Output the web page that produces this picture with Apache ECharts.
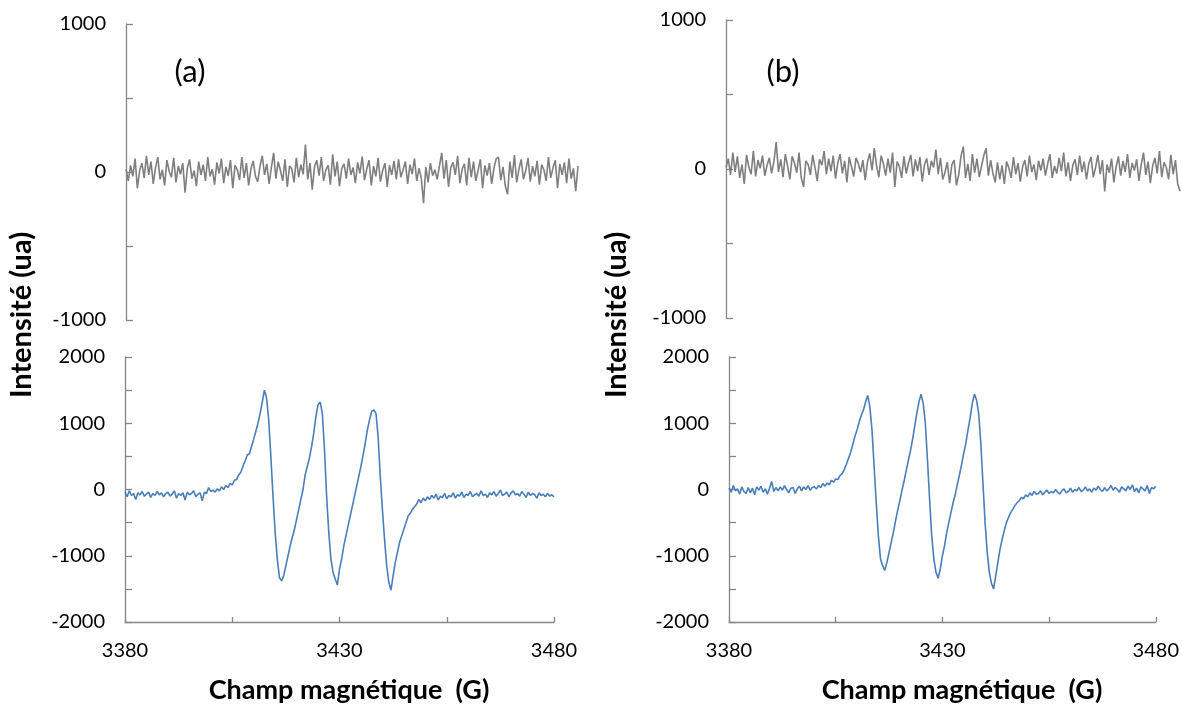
<!DOCTYPE html>
<html><head><meta charset="utf-8">
<script src="https://cdn.jsdelivr.net/npm/echarts@6/dist/echarts.min.js"></script>
<style>html,body{margin:0;padding:0;background:#fff}#c{width:1182px;height:706px}</style>
</head><body><div id="c"></div>
<script>
// ---- data ----
const fieldStart = 3380, fieldStep = 0.5;   // sampling of the spectra (G)
const xTickLabels = [3380, 3430, 3480];
const yTopTickLabels = [-1000, 0, 1000];
const yBottomTickLabels = [-2000, -1000, 0, 1000, 2000];
const panelLabels = ['(a)', '(b)'];
const yTitle = 'Intensité (ua)';
const xTitle = 'Champ magnétique  (G)';

// noise traces (top panels)
const noiseA = [
 20,-60,45,-30,90,-110,10,60,-40,110,-20,70,-80,30,100,-50,15,-90,80,5,
 -35,95,-70,40,-15,60,-140,25,85,-45,10,-95,70,-20,50,-60,100,-30,20,-85,
 65,-10,90,-75,35,-25,80,-110,45,15,-55,100,-40,60,-90,20,75,-30,-65,40,
 110,-20,55,-80,30,130,-45,70,10,-60,85,-100,40,20,-70,95,-35,50,-15,185,
 -50,60,-120,35,80,-25,100,-60,15,45,-85,120,-30,70,-95,25,55,-45,90,-20,
 30,-75,65,-10,105,-55,20,80,-90,40,-30,95,-65,10,60,-100,45,-20,75,-50,
 85,-35,15,70,-80,50,-15,90,-60,25,-40,-210,35,-70,60,-25,15,-50,40,130,
 -45,80,-100,30,65,-20,110,-75,20,55,-90,95,-35,70,-60,10,85,-110,45,-25,
 60,-80,25,90,100,-55,35,-95,-150,70,-40,115,-70,20,85,-50,10,95,-65,40,
 -30,75,-85,50,15,-60,100,-40,30,80,-110,55,-20,65,-75,90,-45,25,-130,40
];
const noiseB = [
 10,70,-40,110,-20,85,-60,30,-100,95,15,-35,120,-50,60,5,90,-45,25,75,
 -30,50,180,-20,65,-55,100,20,-70,85,40,-25,110,-60,-120,55,30,-40,95,10,
 -80,65,25,120,-35,70,-15,90,-65,40,100,-30,55,-90,80,15,-50,75,35,-20,
 60,-75,45,105,-10,140,20,-55,90,35,-45,70,-25,110,-120,50,15,-60,85,-30,
 40,95,-50,65,-15,80,-85,30,70,-40,55,10,130,-35,75,-70,-20,45,-95,30,
 60,-110,-40,85,150,-60,35,-80,100,-25,70,-55,20,90,140,-45,60,-30,-90,45,
 -70,25,-100,50,5,-60,80,-35,40,-85,15,60,-50,90,-20,30,-75,55,-10,70,
 -45,35,100,-60,20,-30,75,-15,110,-50,45,-80,25,65,-40,90,-20,50,-70,35,
 80,-55,10,95,-35,60,-150,30,-25,70,-90,15,85,-45,55,-20,100,-60,40,-10,
 65,-80,30,110,-40,50,-95,20,75,-30,120,-55,45,10,-70,95,-35,60,-100,-150
];

// EPR spectra (bottom panels), one value every 0.5 G from 3380 to 3480 G
const spectrumA = [
 -40,-110,-20,-90,-60,-150,-50,-80,-30,-100,
 -70,-40,-120,-60,-90,-30,-80,-50,-110,-60,
 -40,-100,-70,-20,-130,-60,-90,-50,-160,-40,
 -80,-60,-20,-110,-70,-50,-170,-40,-60,30,
 -30,-10,-40,10,-20,40,0,60,30,90,
 70,140,150,220,260,350,430,520,540,650,
 760,880,1000,1150,1320,1500,1380,1050,500,-100,
 -650,-1050,-1330,-1380,-1300,-1150,-1000,-850,-720,-600,
 -450,-300,-150,0,220,350,480,650,850,1100,
 1280,1320,1150,600,-100,-650,-1050,-1250,-1350,-1440,
 -1200,-1050,-850,-700,-550,-400,-250,-100,50,200,
 350,520,700,900,1050,1180,1200,1150,800,200,
 -300,-750,-1150,-1400,-1520,-1300,-1100,-950,-800,-700,
 -600,-500,-400,-360,-300,-260,-220,-150,-200,-130,
 -170,
 -110,-150,-90,-130,-70,-160,-100,-120,-60,-140,
 -90,-110,-50,-130,-80,-100,-40,-120,-70,-90,
 -30,-110,-80,-60,-100,-20,-90,-70,-120,-50,
 -80,-30,-100,-60,-10,-90,-70,-40,-110,-50,
 -20,-80,-60,-100,-30,-70,-120,-40,-90,-60,
 -80,-130,-50,-90,-70,-110,-60,-100,-80,-110
];
const spectrumB = [
 20,-40,60,-20,10,-70,40,-30,-60,30,
 -50,20,-80,40,-10,50,-40,10,-70,20,
 120,-30,30,-20,40,-10,60,0,-50,20,
 30,-60,10,50,-20,40,0,60,-10,30,
 40,10,60,30,90,50,100,70,140,110,
 160,150,210,240,300,380,470,560,680,800,
 900,1020,1120,1200,1320,1420,1250,900,350,-200,
 -700,-1050,-1150,-1220,-1100,-950,-800,-650,-480,-320,
 -180,-20,120,280,430,580,750,950,1150,1320,
 1440,1300,1000,450,-150,-700,-1050,-1250,-1340,-1200,
 -1000,-850,-650,-500,-350,-200,-80,80,220,380,
 550,700,900,1080,1300,1440,1350,1150,700,100,
 -500,-950,-1250,-1420,-1500,-1300,-1100,-900,-750,-620,
 -500,-420,-350,-300,-240,-200,-170,-120,-140,-80,
 -110,
 -50,-90,-30,-70,-60,-20,-80,-40,-10,-60,
 -30,-50,0,-40,-70,-20,10,-50,-30,20,
 -40,0,-20,30,-30,-10,40,-20,10,-40,
 20,-10,50,0,-30,30,-20,10,60,-10,
 30,0,-40,40,10,-20,50,0,70,-30,
 20,-50,40,10,-20,60,-60,30,10,50
];

// ---- chart ----
const FONT = 'Lato, "Liberation Sans", sans-serif';
const AXIS_COLOR = '#868686';
const GRAY = '#7f7f7f', BLUE = '#4a7ebb';

const toPairsIdx = arr => arr.map((v, i) => [i, v]);
const toPairsField = arr => arr.map((v, i) => [fieldStart + i * fieldStep, v]);

function yAxisCfg(gridIndex, min, max, labels) {
  return {
    gridIndex, type: 'value', min, max, interval: 500,
    axisLine: { show: true, onZero: false, lineStyle: { color: AXIS_COLOR, width: 1.3 } },
    axisTick: { show: true, inside: true, length: 7, lineStyle: { color: AXIS_COLOR, width: 1.3 } },
    splitLine: { show: false },
    axisLabel: {
      margin: 20, fontSize: 20, color: '#000', fontFamily: FONT,
      formatter: v => labels.includes(v) ? String(v) : ''
    }
  };
}
function xAxisCfg(gridIndex) {
  return {
    gridIndex, type: 'value', min: 3380, max: 3480, interval: 25,
    axisLine: { show: true, onZero: false, lineStyle: { color: AXIS_COLOR, width: 1.3 } },
    axisTick: { show: true, inside: true, length: 5, lineStyle: { color: AXIS_COLOR, width: 1.3 } },
    splitLine: { show: false },
    axisLabel: {
      margin: 19, fontSize: 20, color: '#000', fontFamily: FONT,
      formatter: v => xTickLabels.includes(v) ? String(v) : ''
    }
  };
}
function lineSeries(x, y, data, color) {
  return {
    type: 'line', xAxisIndex: x, yAxisIndex: y, data,
    showSymbol: false, symbol: 'none', silent: true,
    lineStyle: { color, width: 1.6 }
  };
}
function txt(text, x, y, size, weight, rot) {
  return {
    type: 'text', x, y, rotation: rot || 0,
    style: { text, fontSize: size, fontWeight: weight, fontFamily: FONT, fill: '#000',
             align: 'center', verticalAlign: 'middle' }
  };
}

const chart = echarts.init(document.getElementById('c'), null, { renderer: 'canvas' });
chart.setOption({
  animation: false,
  backgroundColor: '#fff',
  grid: [
    { left: 126, top: 24, width: 452, height: 296 },
    { left: 125, top: 357, width: 429, height: 265 },
    { left: 726, top: 20, width: 454, height: 298 },
    { left: 729, top: 357, width: 427, height: 265 }
  ],
  xAxis: [
    { gridIndex: 0, type: 'value', min: 0, max: noiseA.length - 1, show: false },
    xAxisCfg(1),
    { gridIndex: 2, type: 'value', min: 0, max: noiseB.length - 1, show: false },
    xAxisCfg(3)
  ],
  yAxis: [
    yAxisCfg(0, -1000, 1000, yTopTickLabels),
    yAxisCfg(1, -2000, 2000, yBottomTickLabels),
    yAxisCfg(2, -1000, 1000, yTopTickLabels),
    yAxisCfg(3, -2000, 2000, yBottomTickLabels)
  ],
  series: [
    lineSeries(0, 0, toPairsIdx(noiseA), GRAY),
    lineSeries(1, 1, toPairsField(spectrumA), BLUE),
    lineSeries(2, 2, toPairsIdx(noiseB), GRAY),
    lineSeries(3, 3, toPairsField(spectrumB), BLUE)
  ],
  graphic: [
    txt(panelLabels[0], 190, 72, 31, 'normal'),
    txt(panelLabels[1], 783, 72, 31, 'normal'),
    txt(yTitle, 22, 315, 29, 'bold', Math.PI / 2),
    txt(yTitle, 617, 315, 29, 'bold', Math.PI / 2),
    txt(xTitle, 349, 690, 27, 'bold'),
    txt(xTitle, 962, 690, 27, 'bold')
  ]
});
</script>
</body></html>
